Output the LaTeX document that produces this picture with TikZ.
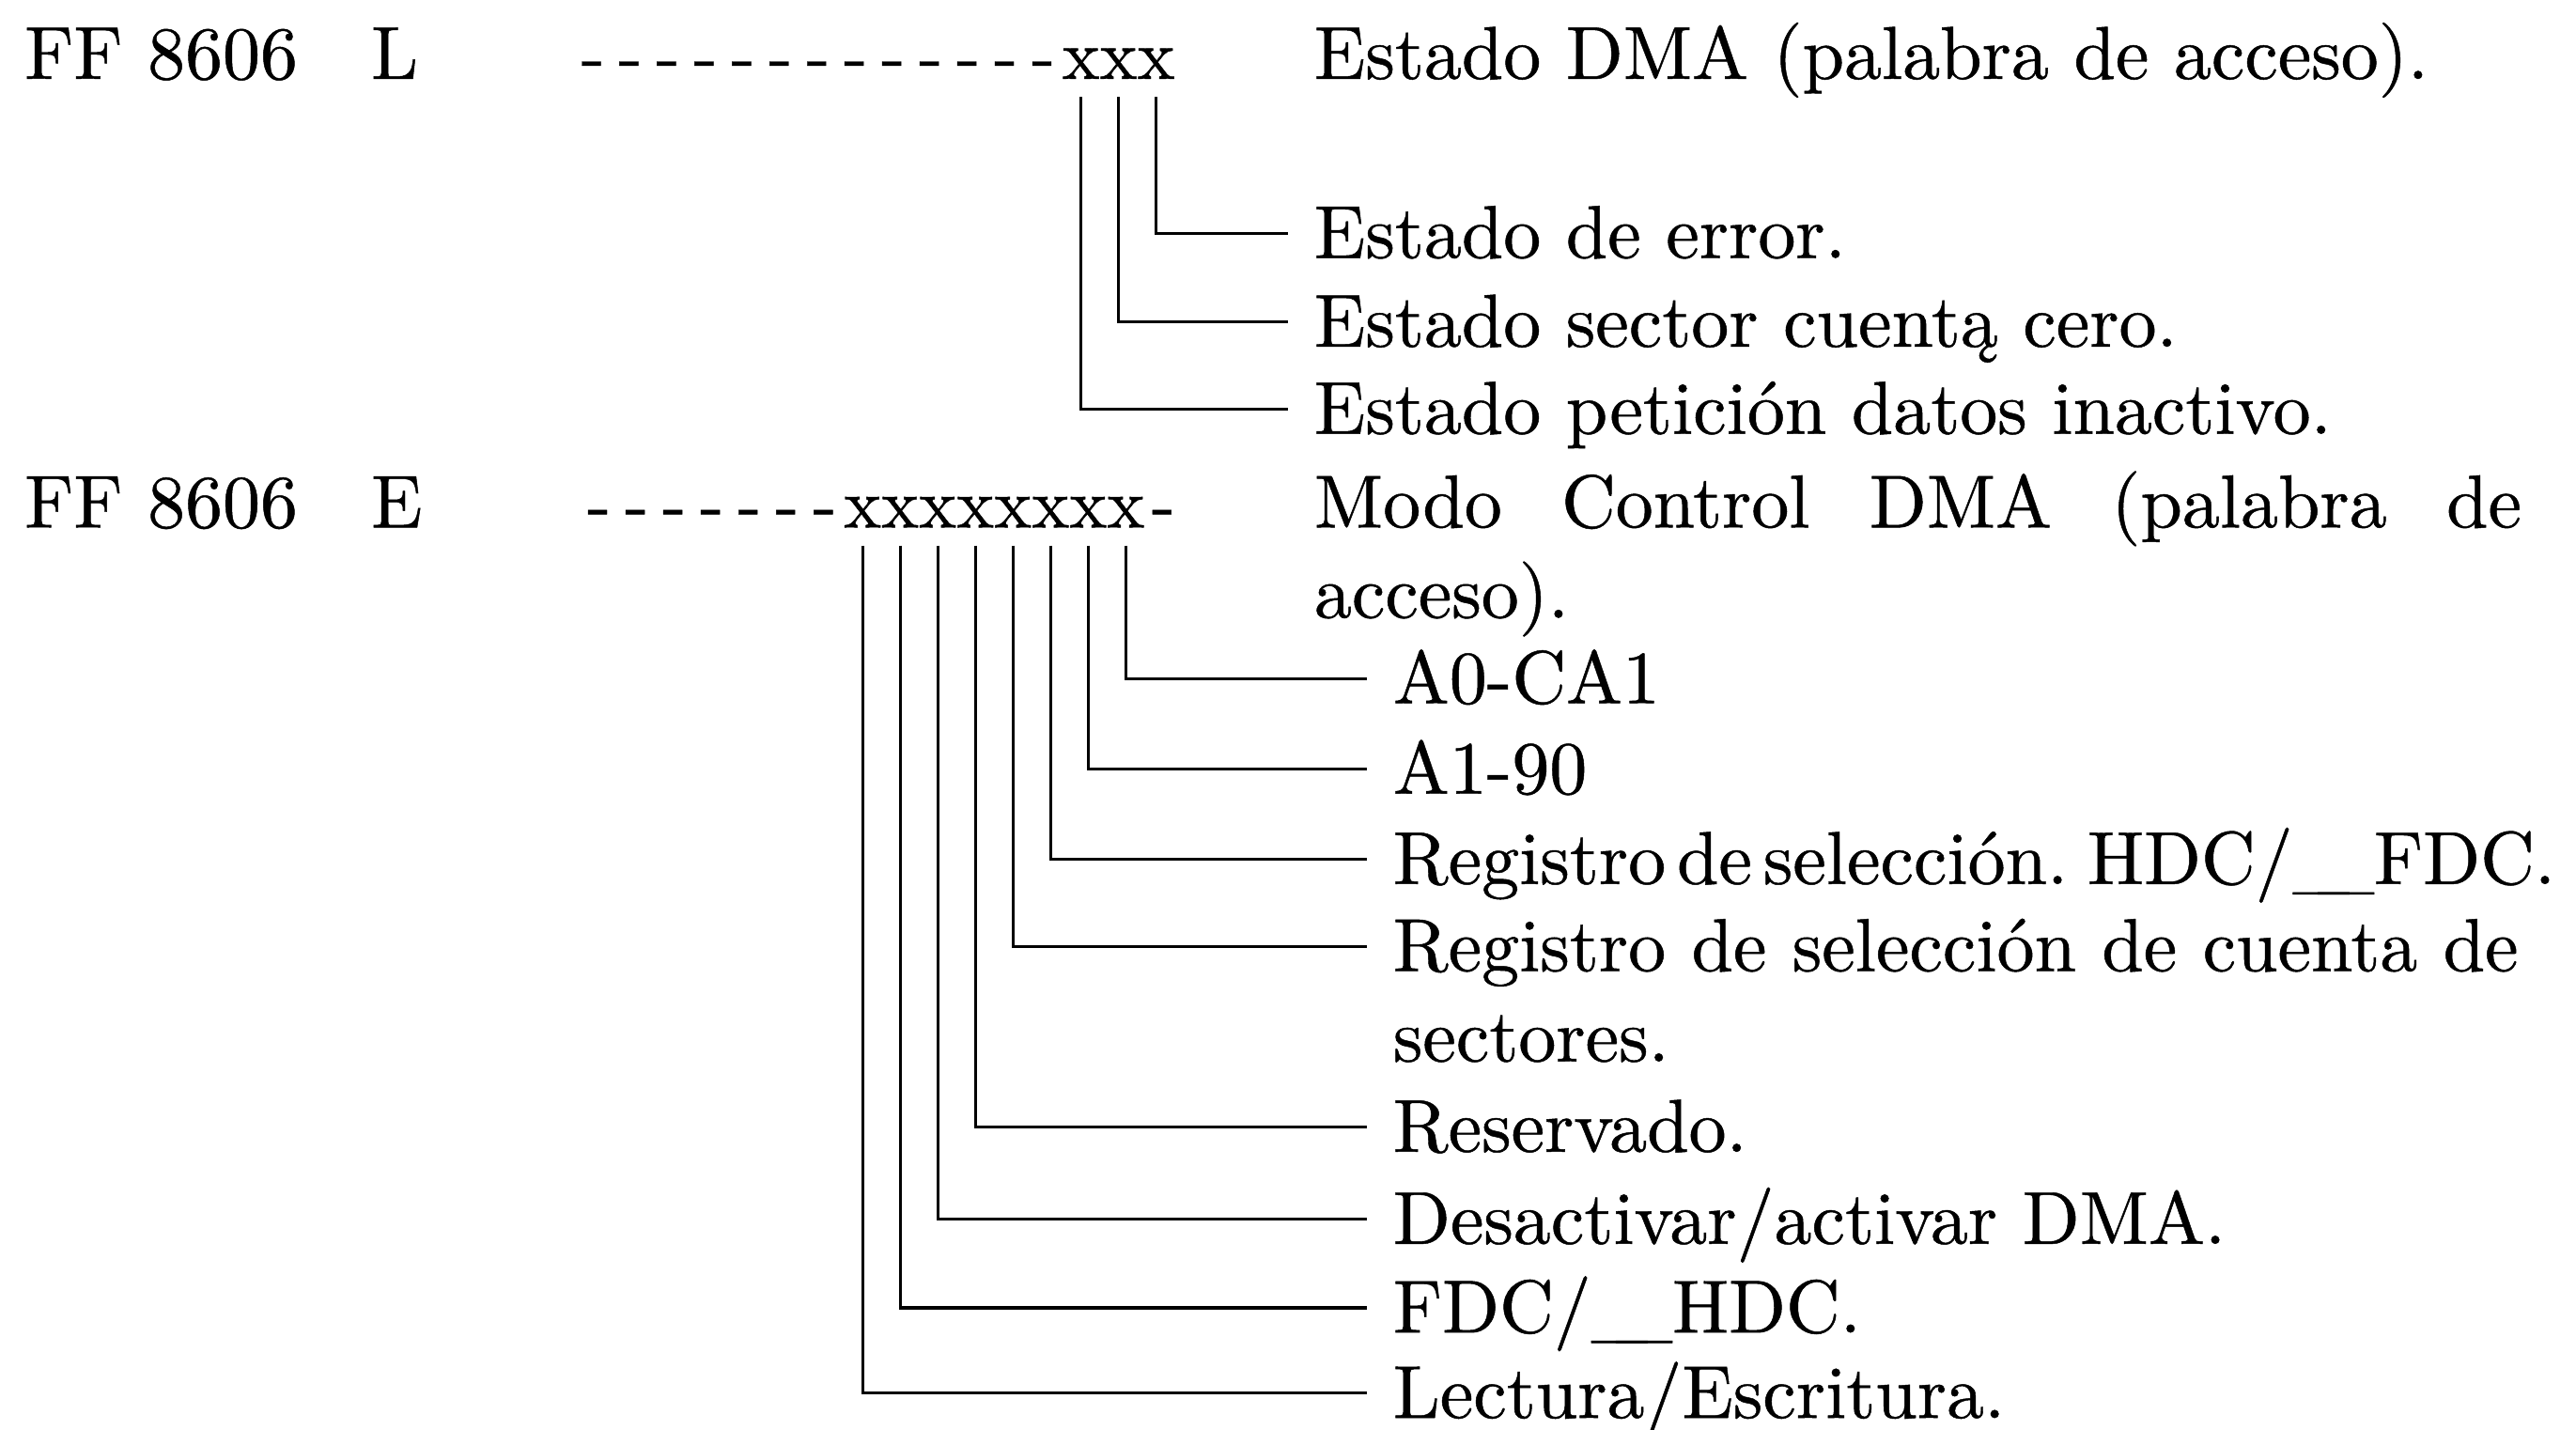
\documentclass[tikz,border=0pt]{standalone}
\usepackage{fontspec}
\setmainfont{lmroman10-regular.otf}[FakeBold=0.6]
\usetikzlibrary{positioning,calc}

\newcommand{\lowbar}{\_\kern-.42em\_}

\tikzset{
  txt/.style={font=\fontsize{26}{31.3}\selectfont,inner sep=0pt,outer sep=0pt},
  lbl/.style={txt,anchor=base west},
  bit/.style={txt,font=\fontsize{24.5}{31.3}\selectfont,anchor=base},
  wire/.style={line width=1pt,shorten <=0.22cm,shorten >=0.32cm},
}

\begin{document}
\begin{tikzpicture}[x=0.02cm,y=-0.02cm]
\useasboundingbox (0,0) rectangle (1568,870);
\node[lbl] (addrL) at (15,48) {FF 8606};
\node[lbl] (rwL) at (226,48) {L};
\foreach \k in {1,...,13}
  \node[bit] (dL\k) at ({658-(14-\k)*22.85},48) {-};
\foreach \i in {1,2,3}
  \node[bit] (xL\i) at ({658+(\i-1)*22.85},48) {x};
\node[lbl] (descL) at (800,48) {Estado DMA (palabra de acceso).};
\node[lbl] (sErr) at (800,157) {Estado de error.};
\node[lbl] (sSec) at (800,211) {Estado sector cuentą cero.};
\node[lbl] (sPet) at (800,264) {Estado petición datos inactivo.};
\foreach \i/\t in {3/sErr,2/sSec,1/sPet}
  \draw[wire] (xL\i.south) |- ($(\t.base west)+(0,-15)$);

\node[lbl] (addrE) at (15,321) {FF 8606};
\node[lbl] (rwE) at (226,321) {E};
\foreach \k in {1,...,7}
  \node[bit] (dE\k) at ({525-(8-\k)*22.9},321) {-};
\foreach \i in {1,...,8}
  \node[bit] (xE\i) at ({525+(\i-1)*22.9},321) {x};
\node[bit] (dE8) at ({525+8*22.9},321) {-};
\node[lbl] (descE) at (800,321) {\makebox[14.7cm][s]{Modo Control DMA (palabra de}};
\node[lbl] (descE2) at (800,376) {acceso).};
\node[lbl] (eA0) at (848,428) {A0-CA1};
\node[lbl] (eA1) at (848,483) {A1-90};
\node[lbl] (eHdc) at (848,538) {\spaceskip=.15em\relax Registro de selección. HDC/\lowbar FDC.};
\node[lbl] (eCta) at (848,591) {\makebox[13.7cm][s]{Registro de selección de cuenta de}};
\node[lbl] (eCta2) at (848,646) {sectores.};
\node[lbl] (eRes) at (848,701) {Reservado.};
\node[lbl] (eDma) at (848,757) {Desactivar/activar DMA.};
\node[lbl] (eFdc) at (848,811) {FDC/\lowbar HDC.};
\node[lbl] (eRw) at (848,863) {Lectura/Escritura.};
\foreach \i/\t in {8/eA0,7/eA1,6/eHdc,5/eCta,4/eRes,3/eDma,2/eFdc,1/eRw}
  \draw[wire] (xE\i.south) |- ($(\t.base west)+(0,-15)$);
\end{tikzpicture}
\end{document}
